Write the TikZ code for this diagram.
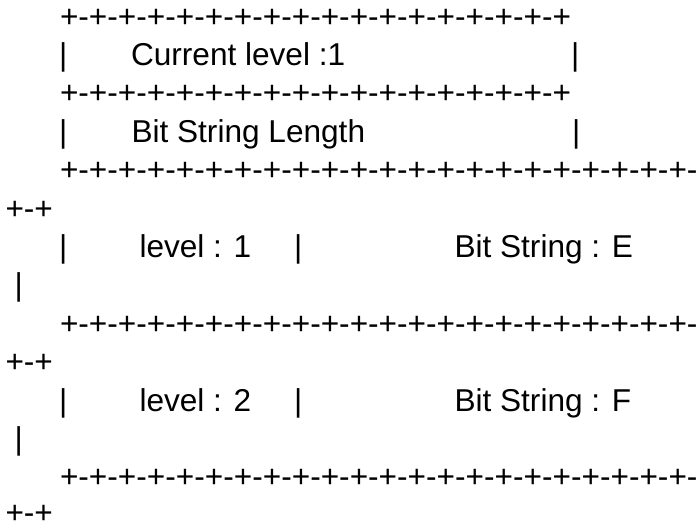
\documentclass[tikz,border=0pt]{standalone}
\usepackage{fontspec}
\setmainfont{Liberation Sans}
\begin{document}
\begin{tikzpicture}[x=1pt,y=-1pt,
  glyphs/.style={anchor=base west,inner sep=0pt,outer sep=0pt,
    font=\fontsize{31.6}{38}\selectfont}]
\useasboundingbox (0,0) rectangle (699,523);
% header box
\node[glyphs] (top)   at (60,27)    {+-+-+-+-+-+-+-+-+-+-+-+-+-+-+-+-+-+};
\node[glyphs] (curL)  at (59,65.4)  {|};
\node[glyphs] (cur)   at (131,65.4) {Current level :1};
\node[glyphs] (curR)  at (571,65.4) {|};
\node[glyphs] (mid)   at (60,103.8) {+-+-+-+-+-+-+-+-+-+-+-+-+-+-+-+-+-+};
\node[glyphs] (lenL)  at (59,142.2) {|};
\node[glyphs] (len)   at (131.5,142.2) {Bit String Length};
\node[glyphs] (lenR)  at (572,142.2) {|};
% first entry
\node[glyphs] (sepA)  at (60,180.6) {+-+-+-+-+-+-+-+-+-+-+-+-+-+-+-+-+-+-+-+-+-+-};
\node[glyphs] (sepAw) at (5.5,219)  {+-+};
\node[glyphs] (e1L)   at (59,257.4) {|};
\node[glyphs] (e1lv)  at (139.5,257.4) {level : 1};
\node[glyphs] (e1M)   at (294,257.4) {|};
\node[glyphs] (e1bs)  at (454.5,257.4) {Bit String : E};
\node[glyphs] (e1R)   at (14.5,295.8) {|};
% second entry
\node[glyphs] (sepB)  at (60,334.2) {+-+-+-+-+-+-+-+-+-+-+-+-+-+-+-+-+-+-+-+-+-+-};
\node[glyphs] (sepBw) at (5.5,372.6) {+-+};
\node[glyphs] (e2L)   at (59,411)   {|};
\node[glyphs] (e2lv)  at (139.5,411) {level : 2};
\node[glyphs] (e2M)   at (294,411)  {|};
\node[glyphs] (e2bs)  at (454.5,411) {Bit String : F};
\node[glyphs] (e2R)   at (14.5,449.4) {|};
% closing border
\node[glyphs] (sepC)  at (60,487.8) {+-+-+-+-+-+-+-+-+-+-+-+-+-+-+-+-+-+-+-+-+-+-};
\node[glyphs] (sepCw) at (5.5,523) {+-+};
\end{tikzpicture}
\end{document}
